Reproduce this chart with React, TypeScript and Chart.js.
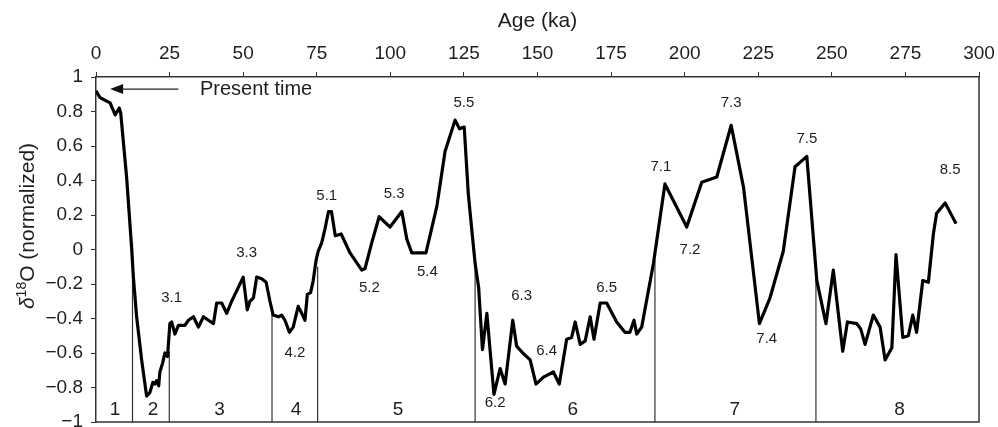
import React, { useEffect, useRef } from "react";
import { Chart, registerables } from "chart.js";

Chart.register(...registerables);

// Age (ka) and normalized δ18O values
const ages = [
  0, 1.4, 3.6, 4.8, 6.5, 7.9, 8.4, 10.4, 12.1, 12.7, 13.8, 15.5, 17.2, 18.3, 19.3, 20.0, 20.6, 21.3, 21.7,
  22.6, 23.4, 24.3, 25.1, 25.7, 26.8, 28.0, 30.2, 31.4, 33.1, 34.8, 36.5, 38.2, 39.9, 41.0, 42.7, 44.4,
  46.1, 47.8, 50.0, 51.4, 52.3, 53.5, 54.6, 56.3, 57.8, 59.1, 60.2, 62.0, 63.1, 64.2, 65.7, 67.0, 68.7,
  69.9, 71.0, 71.8, 72.9, 73.8, 74.8, 75.5, 76.7, 77.8, 79.0, 80.0, 81.3, 83.3, 86.3, 90.3, 91.4, 93.7,
  96.2, 99.9, 103.9, 105.6, 107.3, 112.1, 115.8, 118.6, 122.0, 123.5, 125.1, 126.5, 128.8, 130.0, 131.3,
  132.8, 135.2, 137.3, 139.0, 141.6, 142.9, 145.0, 147.5, 149.5, 152.0, 155.4, 157.4, 159.9, 161.6, 162.8,
  164.5, 166.2, 167.9, 169.2, 171.3, 173.5, 176.9, 179.7, 181.4, 182.8, 183.7, 185.4, 189.4, 193.3, 200.7,
  205.8, 210.9, 215.8, 220.0, 225.4, 229.0, 233.5, 237.5, 241.5, 244.9, 248.0, 250.5, 253.7, 255.3, 258.5,
  259.8, 261.3, 264.1, 266.4, 268.1, 270.4, 271.8, 274.1, 276.0, 277.5, 278.8, 280.9, 282.8, 284.5, 285.6,
  288.5, 292.2,
];
const d18O = [
  0.92, 0.88, 0.86, 0.85, 0.78, 0.82, 0.79, 0.42, 0.01, -0.16, -0.39, -0.64, -0.85, -0.83, -0.77, -0.78, -0.76, -0.79, -0.71,
  -0.66, -0.6, -0.62, -0.43, -0.42, -0.49, -0.44, -0.44, -0.41, -0.39, -0.45, -0.39, -0.41, -0.43, -0.31, -0.31, -0.37,
  -0.3, -0.24, -0.16, -0.35, -0.3, -0.28, -0.16, -0.17, -0.19, -0.3, -0.38, -0.39, -0.38, -0.41, -0.48, -0.45, -0.33,
  -0.37, -0.41, -0.26, -0.25, -0.18, -0.06, -0.01, 0.04, 0.12, 0.22, 0.22, 0.08, 0.09, -0.02, -0.12, -0.11, 0.04,
  0.19, 0.13, 0.22, 0.06, -0.02, -0.02, 0.25, 0.57, 0.75, 0.7, 0.71, 0.32, -0.08, -0.22, -0.58,
  -0.37, -0.84, -0.69, -0.78, -0.41, -0.56, -0.6, -0.64, -0.78, -0.74, -0.71, -0.78, -0.52, -0.51, -0.42,
  -0.55, -0.53, -0.39, -0.52, -0.31, -0.31, -0.42, -0.48, -0.48, -0.41, -0.49, -0.45, -0.08, 0.38, 0.13,
  0.39, 0.42, 0.72, 0.36, -0.43, -0.28, -0.01, 0.48, 0.54, -0.18, -0.43, -0.12, -0.59, -0.42, -0.43,
  -0.46, -0.55, -0.38, -0.45, -0.64, -0.57, -0.03, -0.51, -0.5, -0.38, -0.48, -0.18, -0.19, 0.09, 0.21,
  0.27, 0.15,
];

// Marine isotope stage boundaries (vertical lines from −1 up to the curve)
const boundaryAges = [12.4, 24.9, 59.8, 75.3, 128.8, 189.9, 244.6];
const boundaryTops = [0.04, -0.59, -0.37, -0.1, -0.08, -0.06, -0.18];

// Stage numbers along the bottom
const stageNames = ["1", "2", "3", "4", "5", "6", "7", "8"];
const stageAges = [6.5, 19.4, 42, 68, 102.6, 162, 217, 273];
const stageY = -0.93;

// Substage labels
const subLabels = ["3.1", "3.3", "4.2", "5.1", "5.2", "5.3", "5.4", "5.5", "6.2", "6.3", "6.4", "6.5", "7.1", "7.2", "7.3", "7.4", "7.5", "8.5"];
const subAges = [25.7, 51.2, 67.6, 78.4, 92.9, 101.3, 112.6, 125, 135.6, 144.6, 153.1, 173.5, 191.9, 201.8, 215.8, 227.9, 241.5, 290.2];
const subValues = [-0.28, -0.02, -0.6, 0.31, -0.22, 0.32, -0.13, 0.85, -0.89, -0.27, -0.59, -0.22, 0.48, 0.0, 0.85, -0.52, 0.64, 0.46];

// "Present time" arrow
const arrowFrom = 28;
const arrowTo = 4.8;
const arrowY = 0.93;
const presentText = "Present time";
const presentTextAge = 35.3;

const xTitle = "Age (ka)";
const FONT = "'Liberation Sans', Arial, Helvetica, sans-serif";
const TEXT = "#1e1e1e";

const annotations = {
  id: "annotations",
  afterDatasetsDraw(chart: any) {
    const { ctx, chartArea, scales } = chart;
    const xs = scales.x;
    const ys = scales.y;
    ctx.save();
    // frame right & bottom
    ctx.strokeStyle = "#333";
    ctx.lineWidth = 1.5;
    ctx.beginPath();
    ctx.moveTo(chartArea.left, chartArea.bottom);
    ctx.lineTo(chartArea.right, chartArea.bottom);
    ctx.lineTo(chartArea.right, chartArea.top);
    ctx.stroke();

    ctx.fillStyle = TEXT;
    ctx.textAlign = "center";
    ctx.textBaseline = "middle";
    ctx.font = `15px ${FONT}`;
    subLabels.forEach((t, i) => {
      ctx.fillText(t, xs.getPixelForValue(subAges[i]), ys.getPixelForValue(subValues[i]));
    });
    ctx.font = `19px ${FONT}`;
    stageNames.forEach((t, i) => {
      ctx.fillText(t, xs.getPixelForValue(stageAges[i]), ys.getPixelForValue(stageY));
    });

    // arrow
    const ay = ys.getPixelForValue(arrowY);
    const ax1 = xs.getPixelForValue(arrowFrom);
    const ax2 = xs.getPixelForValue(arrowTo);
    ctx.strokeStyle = "#222";
    ctx.lineWidth = 1.2;
    ctx.beginPath();
    ctx.moveTo(ax1, ay);
    ctx.lineTo(ax2 + 8, ay);
    ctx.stroke();
    ctx.fillStyle = "#111";
    ctx.beginPath();
    ctx.moveTo(ax2, ay);
    ctx.lineTo(ax2 + 13, ay - 5);
    ctx.lineTo(ax2 + 13, ay + 5);
    ctx.closePath();
    ctx.fill();
    ctx.fillStyle = TEXT;
    ctx.textAlign = "left";
    ctx.font = `20px ${FONT}`;
    ctx.fillText(presentText, xs.getPixelForValue(presentTextAge), ay);

    // y-axis title: δ18O (normalized)
    ctx.translate(27, 226);
    ctx.rotate(-Math.PI / 2);
    const f1 = `italic 21px ${FONT}`;
    const f2 = `14px ${FONT}`;
    const f3 = `21px ${FONT}`;
    ctx.font = f1;
    const w1 = ctx.measureText("δ").width;
    ctx.font = f2;
    const w2 = ctx.measureText("18").width;
    ctx.font = f3;
    const w3 = ctx.measureText("O (normalized)").width;
    let x0 = -(w1 + w2 + w3) / 2;
    ctx.textAlign = "left";
    ctx.textBaseline = "alphabetic";
    const base = 7;
    ctx.font = f1;
    ctx.fillText("δ", x0, base);
    x0 += w1;
    ctx.font = f2;
    ctx.fillText("18", x0, base - 8);
    x0 += w2;
    ctx.font = f3;
    ctx.fillText("O (normalized)", x0, base);
    ctx.restore();
  },
};

export default function App() {
  const ref = useRef<HTMLCanvasElement>(null);
  useEffect(() => {
    if (!ref.current) return;
    const mainData = ages.map((a, i) => ({ x: a, y: d18O[i] }));
    const boundarySets = boundaryAges.map((a, i) => ({
      data: [
        { x: a, y: -1 },
        { x: a, y: boundaryTops[i] },
      ],
      borderColor: "#333",
      borderWidth: 1.2,
      pointRadius: 0,
      fill: false,
    }));
    const chart = new Chart(ref.current, {
      type: "line",
      data: {
        datasets: [
          {
            data: mainData,
            borderColor: "#000",
            borderWidth: 3.2,
            pointRadius: 0,
            tension: 0,
            borderJoinStyle: "round",
            fill: false,
          } as any,
          ...boundarySets,
        ],
      },
      options: {
        responsive: false,
        animation: false,
        layout: { padding: { left: 0, top: 0, right: 19, bottom: 5 } },
        plugins: { legend: { display: false }, tooltip: { enabled: false } },
        scales: {
          x: {
            type: "linear",
            position: "top",
            min: 0,
            max: 300,
            afterFit: (s: any) => {
              s.height = 77;
              s.paddingLeft = 0;
              s.paddingRight = 0;
              s.paddingTop = 0;
              s.paddingBottom = 0;
            },
            ticks: { stepSize: 25, color: TEXT, font: { size: 19, family: FONT }, padding: 7, maxRotation: 0 },
            grid: { display: true, drawOnChartArea: false, drawTicks: true, tickLength: 5, color: "#333" },
            border: { display: true, color: "#333", width: 1.5 },
            title: { display: true, text: xTitle, color: TEXT, font: { size: 21, family: FONT }, padding: { top: 9, bottom: 0 } },
          },
          y: {
            type: "linear",
            min: -1,
            max: 1,
            afterFit: (s: any) => {
              s.width = 96;
              s.paddingTop = 0;
              s.paddingBottom = 0;
              s.paddingLeft = 0;
              s.paddingRight = 0;
            },
            ticks: {
              stepSize: 0.2,
              color: TEXT,
              font: { size: 19, family: FONT },
              padding: 8,
              callback: (v: any) => {
                const r = Math.round(Number(v) * 10) / 10;
                return String(r).replace("-", "−");
              },
            },
            grid: { display: true, drawOnChartArea: false, drawTicks: true, tickLength: 5, color: "#333" },
            border: { display: true, color: "#333", width: 1.5 },
            title: { display: false },
          },
        },
      } as any,
      plugins: [annotations],
    });
    return () => chart.destroy();
  }, []);
  return (
    <div style={{ position: "absolute", left: 0, top: 0, width: 998, height: 427, background: "#fff" }}>
      <canvas ref={ref} width={998} height={427} />
    </div>
  );
}
